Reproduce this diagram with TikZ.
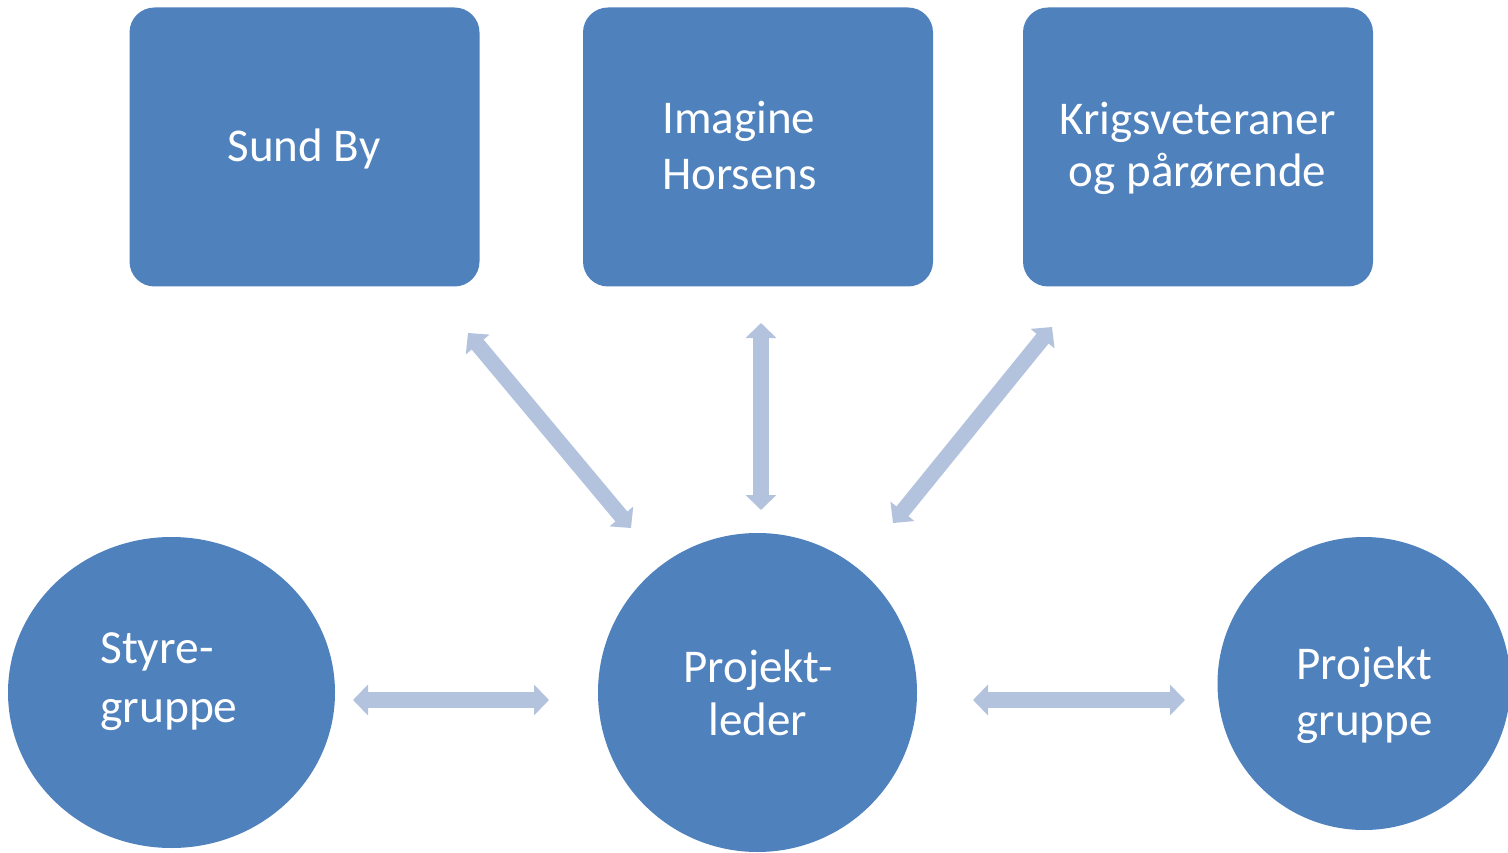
\documentclass[tikz,border=0pt]{standalone}
\usepackage{fontspec}
\setmainfont{Carlito}
\usetikzlibrary{arrows.meta,shapes.geometric}
\definecolor{boxblue}{HTML}{4F81BD}
\definecolor{arrowblue}{HTML}{B3C3DE}
\tikzset{
  box/.style={draw=none, fill=boxblue, rounded corners=25pt, minimum width=350pt, minimum height=279pt, inner sep=0pt},
  disc/.style={draw=none, fill=boxblue, ellipse, inner sep=0pt},
  lbl/.style={text=white, inner sep=0pt, font=\fontsize{47}{56}\selectfont},
  dblarrow/.style={draw=arrowblue, line width=15.5pt,
    {Triangle[length=15pt,width=30pt]}-{Triangle[length=15pt,width=30pt]}}
}
\begin{document}
\begin{tikzpicture}[x=1pt,y=-1pt]
\useasboundingbox (0,0) rectangle (1508,853);
\begin{scope}
\clip (0,0) rectangle (1508,853);
% boxes
\node[box] (sund) at (304.5,147) {};
\node[box] (imag) at (758,147) {};
\node[box] (krig) at (1198,147) {};
% circles
\node[disc, minimum width=327pt, minimum height=311pt] (styre) at (171.5,692.5) {};
\node[disc, minimum width=319pt, minimum height=319pt] (leder) at (757.5,692.5) {};
\node[disc, minimum width=293pt, minimum height=293pt] (pgrp) at (1364,683.5) {};
\end{scope}
% labels (base anchor = baseline of the last line)
\node[lbl, anchor=base] (tsund) at (304,162) {Sund By};
\node[lbl, align=left, anchor=base west] (timag) at (662,190) {Imagine\\Horsens};
\node[lbl, font=\fontsize{47}{52}\selectfont, align=center, anchor=base] (tkrig) at (1197.5,187) {Krigsveteraner\\og pårørende};
\node[lbl, font=\fontsize{47.5}{59}\selectfont, align=left, anchor=base west] (tstyre) at (100,722) {Styre-\\gruppe};
\node[lbl, font=\fontsize{47}{53}\selectfont, align=center, anchor=base] (tleder) at (758,735) {Projekt-\\leder};
\node[lbl, font=\fontsize{47}{56}\selectfont, align=center, anchor=base] (tpgrp) at (1364.5,735) {Projekt\\gruppe};
% arrow ends
\coordinate (sundS) at (468,333);
\coordinate (lederNW) at (631,528);
\coordinate (imagS) at (761,323);
\coordinate (lederN) at (761,510);
\coordinate (krigS) at (1052,327);
\coordinate (lederNE) at (893,523);
\coordinate (styreE) at (353,700);
\coordinate (lederW) at (549,700);
\coordinate (lederE) at (973,700);
\coordinate (pgrpW) at (1185,700);
% connectors
\draw[dblarrow] (sundS) -- (lederNW);
\draw[dblarrow] (imagS) -- (lederN);
\draw[dblarrow] (krigS) -- (lederNE);
\draw[dblarrow] (styreE) -- (lederW);
\draw[dblarrow] (lederE) -- (pgrpW);
\end{tikzpicture}
\end{document}
